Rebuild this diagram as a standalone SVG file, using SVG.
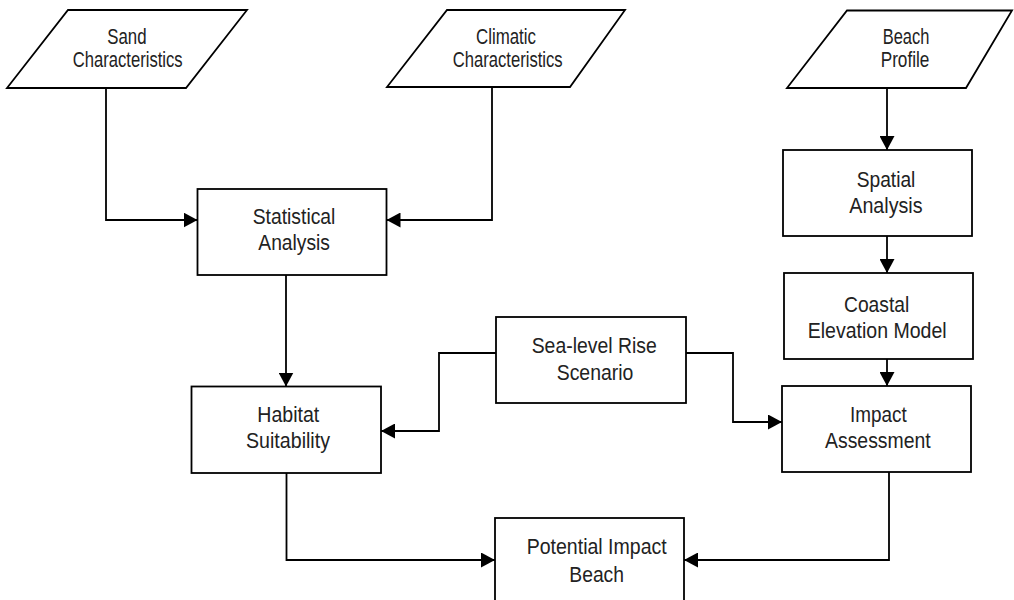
<svg xmlns="http://www.w3.org/2000/svg" width="1014" height="600" viewBox="0 0 1014 600">
<style>
.shape{fill:#fff;stroke:#000;stroke-width:1.8}
.conn{fill:none;stroke:#000;stroke-width:1.8;marker-end:url(#arr)}
text{font-family:"Liberation Sans",Arial,sans-serif;font-size:22.5px;fill:#222}
</style>
<defs>
<marker id="arr" viewBox="0 0 14 15" refX="14" refY="7.5" markerWidth="14" markerHeight="15" markerUnits="userSpaceOnUse" orient="auto">
<path d="M0,0 L14,7.5 L0,15 Z" fill="#000"/>
</marker>
</defs>
<rect width="1014" height="600" fill="#fff"/>
<g id="connectors">
<polyline class="conn" points="106,88 106,220 197.5,220"/>
<polyline class="conn" points="492,87 492,220 386.5,220"/>
<polyline class="conn" points="286,275 286,386.5"/>
<polyline class="conn" points="496,353 439,353 439,431 381,431"/>
<polyline class="conn" points="686,353 733,353 733,422 782,422"/>
<polyline class="conn" points="887,88 887,150"/>
<polyline class="conn" points="887,236 887,273"/>
<polyline class="conn" points="887,359 887,386"/>
<polyline class="conn" points="286.5,473 286.5,560 495,560"/>
<polyline class="conn" points="889,472 889,560 684,560"/>
</g>
<g id="sand">
<polygon class="shape" points="68,10 247,10 186,88 7,88"/>
<text x="107.3" y="44" textLength="39.3" lengthAdjust="spacingAndGlyphs">Sand</text>
<text x="72.7" y="67" textLength="110" lengthAdjust="spacingAndGlyphs">Characteristics</text>
</g>
<g id="climatic">
<polygon class="shape" points="447,10 625,10 570,87 387,87"/>
<text x="476" y="43.5" textLength="60" lengthAdjust="spacingAndGlyphs">Climatic</text>
<text x="452.7" y="67" textLength="110" lengthAdjust="spacingAndGlyphs">Characteristics</text>
</g>
<g id="beach">
<polygon class="shape" points="847,10.5 1012,10.5 966,88 787,88"/>
<text x="882.7" y="43.5" textLength="46.7" lengthAdjust="spacingAndGlyphs">Beach</text>
<text x="880.7" y="66.7" textLength="48.7" lengthAdjust="spacingAndGlyphs">Profile</text>
</g>
<g id="statistical">
<rect class="shape" x="197.5" y="189" width="189" height="86"/>
<text x="252.7" y="224" textLength="82.7" lengthAdjust="spacingAndGlyphs">Statistical</text>
<text x="258.3" y="250" textLength="71.7" lengthAdjust="spacingAndGlyphs">Analysis</text>
</g>
<g id="spatial">
<rect class="shape" x="783" y="150" width="189" height="86"/>
<text x="856.7" y="186.7" textLength="58.7" lengthAdjust="spacingAndGlyphs">Spatial</text>
<text x="849.3" y="213" textLength="73.3" lengthAdjust="spacingAndGlyphs">Analysis</text>
</g>
<g id="coastal">
<rect class="shape" x="784" y="273" width="189" height="86"/>
<text x="844" y="312.3" textLength="65.3" lengthAdjust="spacingAndGlyphs">Coastal</text>
<text x="807.7" y="338.3" textLength="139" lengthAdjust="spacingAndGlyphs">Elevation Model</text>
</g>
<g id="sealevel">
<rect class="shape" x="496" y="317" width="190" height="86"/>
<text x="531.7" y="353.3" textLength="125" lengthAdjust="spacingAndGlyphs">Sea-level Rise</text>
<text x="556.7" y="380" textLength="76.7" lengthAdjust="spacingAndGlyphs">Scenario</text>
</g>
<g id="habitat">
<rect class="shape" x="191.5" y="386.5" width="189.5" height="86.5"/>
<text x="257.3" y="422.3" textLength="62" lengthAdjust="spacingAndGlyphs">Habitat</text>
<text x="246" y="448" textLength="84" lengthAdjust="spacingAndGlyphs">Suitability</text>
</g>
<g id="impact">
<rect class="shape" x="782" y="386" width="189" height="86"/>
<text x="850" y="421.7" textLength="56.7" lengthAdjust="spacingAndGlyphs">Impact</text>
<text x="825" y="448.3" textLength="105.7" lengthAdjust="spacingAndGlyphs">Assessment</text>
</g>
<g id="potential">
<rect class="shape" x="495" y="518" width="189" height="90"/>
<text x="526.7" y="554.3" textLength="140" lengthAdjust="spacingAndGlyphs">Potential Impact</text>
<text x="569.3" y="581.7" textLength="54.7" lengthAdjust="spacingAndGlyphs">Beach</text>
</g>
</svg>
